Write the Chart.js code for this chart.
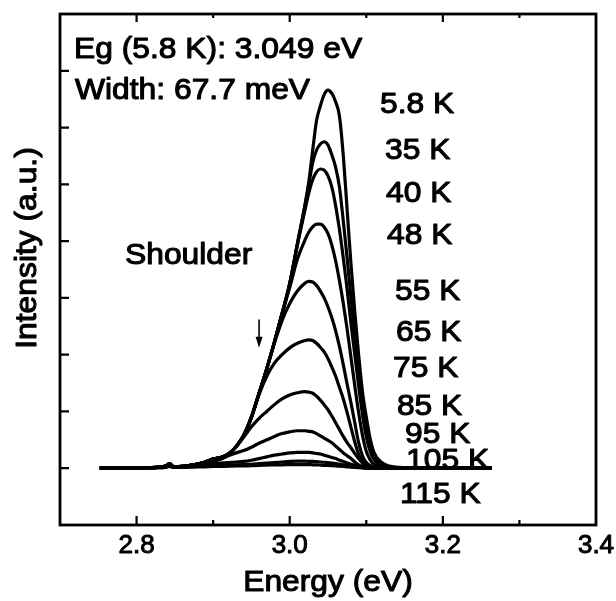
<!DOCTYPE html>
<html><head><meta charset="utf-8">
<script src="https://cdn.jsdelivr.net/npm/chart.js@4.4.0/dist/chart.umd.min.js"></script>
<style>html,body{margin:0;padding:0;background:#fff;}</style>
</head><body>
<canvas id="c" width="616" height="601"></canvas>
<script>
// ---- data ----
const energy = [2.752, 2.78, 2.81, 2.83, 2.838, 2.843, 2.848, 2.86, 2.875, 2.89,
 2.90, 2.91, 2.92, 2.93, 2.94, 2.95, 2.96, 2.97, 2.98, 2.99,
 3.00, 3.01, 3.02, 3.025, 3.03, 3.035, 3.04, 3.045, 3.05, 3.055,
 3.06, 3.065, 3.07, 3.075, 3.08, 3.085, 3.09, 3.095, 3.10, 3.105,
 3.11, 3.12, 3.13, 3.15, 3.20, 3.264];

const tempLabels = ['5.8 K', '35 K', '40 K', '48 K', '55 K', '65 K', '75 K', '85 K', '95 K', '105 K', '115 K'];

const I_5_8K = [0, 0.005, 0.01, 0.02, 0.04, 0.08, 0.03, 0.035, 0.06, 0.11,
 0.16, 0.19, 0.25, 0.38, 0.58, 0.9, 1.32, 1.75, 2.22, 2.72,
 3.25, 3.95, 4.65, 5.05, 5.6, 6.12, 6.38, 6.58, 6.66, 6.6,
 6.45, 6.2, 5.5, 4.55, 3.6, 2.75, 2.0, 1.35, 0.9, 0.52,
 0.28, 0.1, 0.04, 0.01, 0, 0];
const I_35K = [0, 0.005, 0.01, 0.02, 0.04, 0.08, 0.03, 0.035, 0.06, 0.11,
 0.16, 0.19, 0.25, 0.38, 0.58, 0.9, 1.32, 1.75, 2.22, 2.72,
 3.25, 3.95, 4.62, 5.0, 5.38, 5.6, 5.71, 5.75, 5.69, 5.52,
 5.3, 4.95, 4.35, 3.7, 3.0, 2.35, 1.7, 1.12, 0.68, 0.36,
 0.18, 0.06, 0.02, 0.01, 0, 0];
const I_40K = [0, 0.005, 0.01, 0.02, 0.04, 0.08, 0.03, 0.035, 0.06, 0.11,
 0.16, 0.19, 0.25, 0.38, 0.58, 0.9, 1.32, 1.75, 2.22, 2.72,
 3.25, 3.93, 4.55, 4.85, 5.08, 5.22, 5.27, 5.25, 5.15, 4.95,
 4.62, 4.2, 3.7, 3.15, 2.55, 2.0, 1.45, 0.95, 0.55, 0.3,
 0.15, 0.05, 0.02, 0.01, 0, 0];
const I_48K = [0, 0.005, 0.01, 0.02, 0.04, 0.08, 0.03, 0.035, 0.06, 0.11,
 0.16, 0.19, 0.25, 0.38, 0.58, 0.9, 1.32, 1.75, 2.22, 2.72,
 3.18, 3.68, 4.02, 4.16, 4.25, 4.3, 4.3, 4.25, 4.13, 3.93,
 3.65, 3.3, 2.9, 2.45, 1.95, 1.45, 0.98, 0.58, 0.3, 0.15,
 0.07, 0.02, 0.01, 0, 0, 0];
const I_55K = [0, 0.005, 0.01, 0.02, 0.04, 0.08, 0.03, 0.035, 0.06, 0.11,
 0.16, 0.19, 0.25, 0.38, 0.58, 0.9, 1.32, 1.75, 2.2, 2.6,
 2.9, 3.12, 3.26, 3.29, 3.28, 3.22, 3.12, 3.0, 2.84, 2.65,
 2.42, 2.14, 1.82, 1.48, 1.15, 0.8, 0.45, 0.22, 0.1, 0.05,
 0.02, 0.01, 0, 0, 0, 0];
const I_65K = [0, 0.005, 0.01, 0.02, 0.04, 0.08, 0.03, 0.035, 0.06, 0.11,
 0.16, 0.19, 0.25, 0.38, 0.58, 0.9, 1.3, 1.62, 1.85, 2.0,
 2.12, 2.2, 2.25, 2.26, 2.25, 2.2, 2.13, 2.05, 1.93, 1.78,
 1.62, 1.42, 1.22, 0.98, 0.72, 0.46, 0.25, 0.12, 0.06, 0.03,
 0.01, 0, 0, 0, 0, 0];
const I_75K = [0, 0.005, 0.01, 0.02, 0.04, 0.08, 0.03, 0.035, 0.06, 0.11,
 0.16, 0.19, 0.25, 0.38, 0.55, 0.73, 0.88, 1.0, 1.12, 1.22,
 1.29, 1.33, 1.35, 1.34, 1.32, 1.27, 1.2, 1.12, 1.03, 0.92,
 0.8, 0.68, 0.56, 0.45, 0.36, 0.26, 0.17, 0.09, 0.04, 0.02,
 0.01, 0, 0, 0, 0, 0];
const I_85K = [0, 0.005, 0.01, 0.02, 0.035, 0.07, 0.03, 0.03, 0.05, 0.09,
 0.12, 0.16, 0.22, 0.27, 0.31, 0.37, 0.44, 0.5, 0.56, 0.61,
 0.64, 0.66, 0.66, 0.65, 0.64, 0.61, 0.57, 0.53, 0.49, 0.45,
 0.39, 0.33, 0.27, 0.22, 0.17, 0.11, 0.06, 0.03, 0.01, 0,
 0, 0, 0, 0, 0, 0];
const I_95K = [0, 0.005, 0.01, 0.015, 0.03, 0.06, 0.025, 0.03, 0.05, 0.07,
 0.08, 0.09, 0.1, 0.11, 0.12, 0.14, 0.17, 0.2, 0.23, 0.25,
 0.27, 0.28, 0.28, 0.28, 0.27, 0.26, 0.25, 0.23, 0.21, 0.19,
 0.17, 0.14, 0.12, 0.09, 0.07, 0.05, 0.03, 0.02, 0.01, 0,
 0, 0, 0, 0, 0, 0];
const I_105K = [0, 0.005, 0.01, 0.01, 0.02, 0.04, 0.02, 0.02, 0.03, 0.04,
 0.045, 0.05, 0.055, 0.06, 0.065, 0.07, 0.08, 0.09, 0.1, 0.11,
 0.12, 0.125, 0.125, 0.12, 0.12, 0.115, 0.11, 0.105, 0.1, 0.09,
 0.08, 0.07, 0.06, 0.05, 0.04, 0.03, 0.02, 0.01, 0.005, 0,
 0, 0, 0, 0, 0, 0];
const I_115K = [0, 0.005, 0.005, 0.01, 0.015, 0.03, 0.015, 0.015, 0.02, 0.025,
 0.03, 0.03, 0.035, 0.04, 0.04, 0.045, 0.05, 0.055, 0.06, 0.06,
 0.065, 0.065, 0.065, 0.065, 0.06, 0.06, 0.055, 0.05, 0.05, 0.045,
 0.04, 0.035, 0.03, 0.025, 0.02, 0.015, 0.01, 0.005, 0, 0,
 0, 0, 0, 0, 0, 0];

// label anchor positions in data units (energy, intensity)
const labelE = [3.118, 3.1244, 3.1258, 3.127, 3.1375, 3.1388, 3.135, 3.140, 3.1506, 3.152, 3.144];
const labelI = [6.41, 5.59, 4.84, 4.09, 3.10, 2.39, 1.76, 1.08, 0.585, 0.13, -0.47];

const noteTexts = ['Eg (5.8 K): 3.049 eV', 'Width: 67.7 meV', 'Shoulder'];
const noteE = [2.7183, 2.7196, 2.7849];
const noteI = [7.37, 6.64, 3.74];

const arrowE = 2.96;
const arrowFromTo = [2.62, 2.12];

const xMajorTicks = [2.8, 3.0, 3.2, 3.4];
const xMinorTicks = [2.9, 3.1, 3.3];
const yTicks = [0, 1, 2, 3, 4, 5, 6, 7];

const xTitle = 'Energy (eV)';
const yTitle = 'Intensity (a.u.)';

// ---- chart ----
const series = [I_5_8K, I_35K, I_40K, I_48K, I_55K, I_65K, I_75K, I_85K, I_95K, I_105K, I_115K];
const datasets = series.map((vals, k) => ({
  label: tempLabels[k],
  data: energy.map((e, i) => ({x: e, y: vals[i]})),
  borderColor: '#000',
  borderWidth: 3.2,
  pointRadius: 0,
  fill: false,
  cubicInterpolationMode: 'monotone'
}));

const FONT = '"Liberation Sans", Arial, Helvetica, sans-serif';
function txt(ctx, s, x, y, size, align, rot) {
  ctx.save();
  ctx.font = size + 'px ' + FONT;
  ctx.fillStyle = '#000';
  ctx.strokeStyle = '#000';
  ctx.lineWidth = 1.1;
  ctx.lineJoin = 'round';
  ctx.textBaseline = 'middle';
  ctx.textAlign = align || 'left';
  ctx.translate(x, y);
  if (rot) ctx.rotate(rot);
  ctx.scale(1.06, 1);
  ctx.fillText(s, 0, 0);
  ctx.strokeText(s, 0, 0);
  ctx.restore();
}

const framePlugin = {
  id: 'frame',
  beforeDatasetsDraw(chart) {
    const {ctx, scales: {x, y}} = chart;
    tempLabels.forEach((t, i) => txt(ctx, t, x.getPixelForValue(labelE[i]), y.getPixelForValue(labelI[i]), 30));
    noteTexts.forEach((t, i) => txt(ctx, t, x.getPixelForValue(noteE[i]), y.getPixelForValue(noteI[i]), 30));
  },
  afterDraw(chart) {
    const {ctx, chartArea: a, scales: {x, y}} = chart;
    ctx.save();
    ctx.strokeStyle = '#000';
    ctx.lineWidth = 2.8;
    ctx.strokeRect(a.left, a.top, a.right - a.left, a.bottom - a.top);
    ctx.lineWidth = 2.2;
    ctx.beginPath();
    xMajorTicks.forEach(v => {
      const px = x.getPixelForValue(v);
      if (px > a.right - 2) return;
      ctx.moveTo(px, a.bottom); ctx.lineTo(px, a.bottom - 9);
      ctx.moveTo(px, a.top); ctx.lineTo(px, a.top + 8);
    });
    xMinorTicks.forEach(v => {
      const px = x.getPixelForValue(v);
      ctx.moveTo(px, a.bottom); ctx.lineTo(px, a.bottom - 5);
      ctx.moveTo(px, a.top); ctx.lineTo(px, a.top + 4);
    });
    yTicks.forEach(v => {
      const py = y.getPixelForValue(v);
      ctx.moveTo(a.left, py); ctx.lineTo(a.left + 9, py);
    });
    ctx.stroke();
    // arrow
    const ax = x.getPixelForValue(arrowE);
    const y0 = y.getPixelForValue(arrowFromTo[0]);
    const y1 = y.getPixelForValue(arrowFromTo[1]);
    ctx.lineWidth = 1.6;
    ctx.beginPath(); ctx.moveTo(ax, y0); ctx.lineTo(ax, y1 - 8); ctx.stroke();
    ctx.fillStyle = '#000';
    ctx.beginPath(); ctx.moveTo(ax - 3.5, y1 - 11); ctx.lineTo(ax + 3.5, y1 - 11); ctx.lineTo(ax, y1); ctx.closePath(); ctx.fill();
    ctx.restore();
    // axis titles
    txt(ctx, xTitle, (a.left + a.right) / 2, 583, 30, 'center');
    txt(ctx, yTitle, a.left - 32, 248, 30, 'center', -Math.PI / 2);
  }
};

new Chart(document.getElementById('c').getContext('2d'), {
  type: 'line',
  data: {datasets},
  options: {
    responsive: false,
    animation: false,
    devicePixelRatio: 1,
    layout: {padding: {left: 60, right: 20, top: 14, bottom: 0}},
    plugins: {legend: {display: false}, tooltip: {enabled: false}, title: {display: false}},
    scales: {
      x: {
        type: 'linear', min: 2.7, max: 3.4,
        grid: {display: false, drawTicks: false},
        border: {display: false},
        afterBuildTicks: s => { s.ticks = xMajorTicks.map(v => ({value: v})); },
        afterFit: s => { s.height = 76; s.paddingLeft = 0; s.paddingRight = 0; },
        ticks: {
          font: {family: 'Liberation Sans', size: 26}, color: '#000', padding: 5,
          textStrokeColor: '#000', textStrokeWidth: 1,
          maxRotation: 0, autoSkip: false,
          callback: v => Number(v).toFixed(1)
        }
      },
      y: {type: 'linear', display: false, min: -1, max: 8}
    }
  },
  plugins: [framePlugin]
});
</script>
</body></html>
